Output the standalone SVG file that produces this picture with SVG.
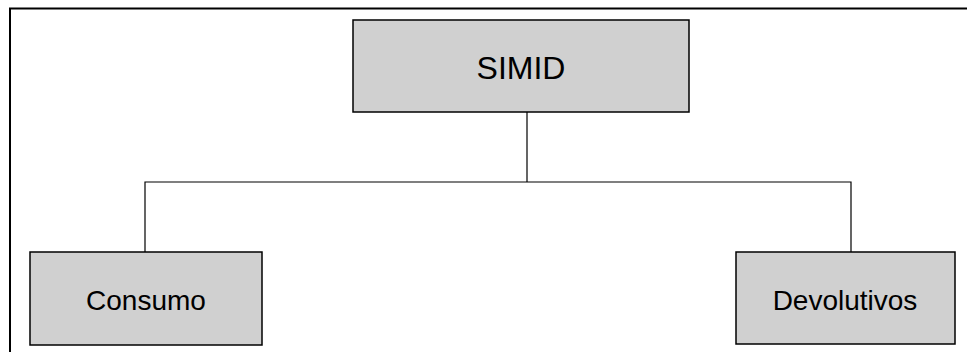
<svg xmlns="http://www.w3.org/2000/svg" width="967" height="352" viewBox="0 0 967 352">
<style>
.box{fill:#d0d0d0;stroke:#000;stroke-width:1.5}
.lbl{font-family:"Liberation Sans",Arial,sans-serif;fill:#000;text-anchor:middle}
.conn{fill:none;stroke:#000;stroke-width:1.2}
.frame{fill:none;stroke:#000;stroke-width:2}
</style>
<rect width="967" height="352" fill="#fff"/>
<path class="frame" d="M10,352 V8.5 H967"/>
<g id="connectors">
<path class="conn" d="M527,112 V182 M145,252 V182 H851 V252"/>
</g>
<g id="simid">
<rect class="box" x="353" y="20" width="336" height="92"/>
<text class="lbl" x="521" y="79" font-size="32">SIMID</text>
</g>
<g id="consumo">
<rect class="box" x="30" y="252" width="232" height="93"/>
<text class="lbl" x="146" y="309.5" font-size="28">Consumo</text>
</g>
<g id="devolutivos">
<rect class="box" x="736" y="252" width="219" height="92"/>
<text class="lbl" x="845" y="309.5" font-size="28">Devolutivos</text>
</g>
</svg>
